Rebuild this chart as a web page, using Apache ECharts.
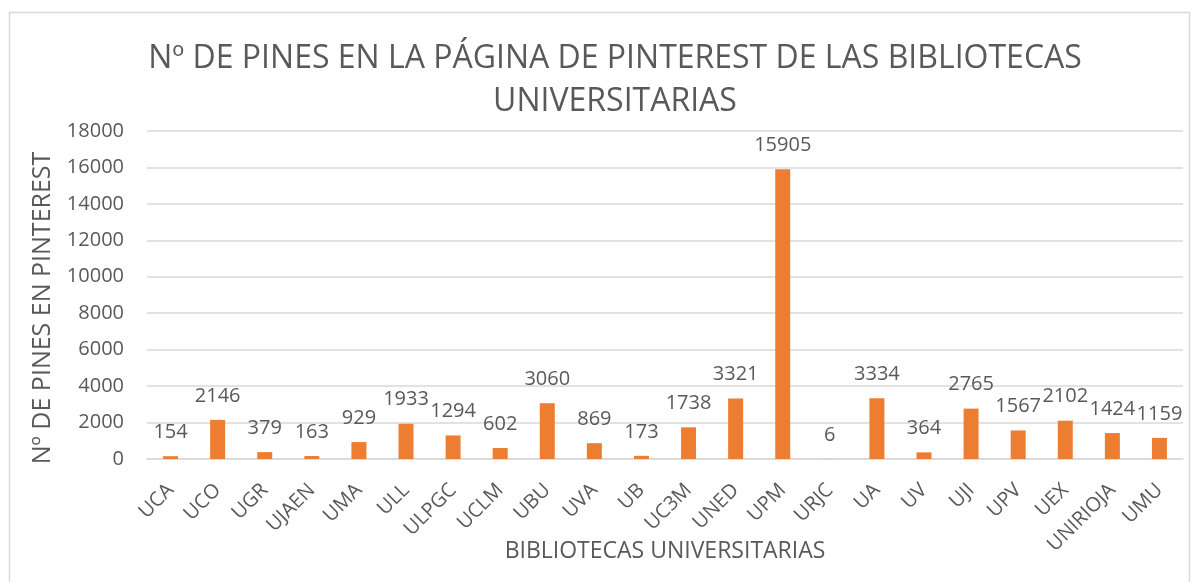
<!DOCTYPE html>
<html>
<head>
<meta charset="utf-8">
<style>
  html, body { margin: 0; padding: 0; background: #fff; }
  #chart { width: 1196px; height: 582px; }
</style>
<script src="https://cdn.jsdelivr.net/npm/echarts@6/dist/echarts.min.js"></script>
</head>
<body>
<div id="chart"></div>
<script>
var categories = ['UCA', 'UCO', 'UGR', 'UJAEN', 'UMA', 'ULL', 'ULPGC', 'UCLM', 'UBU', 'UVA', 'UB',
  'UC3M', 'UNED', 'UPM', 'URJC', 'UA', 'UV', 'UJI', 'UPV', 'UEX', 'UNIRIOJA', 'UMU']
var pines = [154, 2146, 379, 163, 929, 1933, 1294, 602, 3060, 869, 173,
  1738, 3321, 15905, 6, 3334, 364, 2765, 1567, 2102, 1424, 1159]

var textColor = '#595959'
var fontFamily = '"Open Sans", sans-serif'

var chart = echarts.init(document.getElementById('chart'))
chart.setOption({
  animation: false,
  textStyle: { fontFamily: fontFamily, color: textColor },
  graphic: [
    {
      type: 'rect',
      left: 7,
      top: 10,
      shape: { width: 1180, height: 600 },
      style: { fill: 'none', stroke: '#D9D9D9', lineWidth: 1.5 },
      silent: true
    }
  ],
  title: {
    text: 'Nº DE PINES EN LA PÁGINA DE PINTEREST DE LAS BIBLIOTECAS\nUNIVERSITARIAS',
    left: 610,
    textAlign: 'center',
    top: 32,
    textStyle: {
      fontFamily: fontFamily,
      fontSize: 32,
      fontWeight: 'normal',
      color: textColor,
      lineHeight: 43
    }
  },
  grid: {
    left: 147,
    right: 13,
    top: 131,
    bottom: 123,
    containLabel: false,
    outerBoundsMode: 'none'
  },
  xAxis: {
    type: 'category',
    data: categories,
    name: 'BIBLIOTECAS UNIVERSITARIAS',
    nameLocation: 'middle',
    nameGap: 81,
    nameMoveOverlap: false,
    nameTextStyle: { fontSize: 23, color: textColor, fontFamily: fontFamily },
    axisLine: { lineStyle: { color: '#D9D9D9', width: 1.5 } },
    axisTick: { show: false },
    axisLabel: {
      rotate: 45,
      interval: 0,
      margin: 28,
      fontSize: 20,
      color: textColor,
      fontFamily: fontFamily
    }
  },
  yAxis: {
    type: 'value',
    min: 0,
    max: 18000,
    interval: 2000,
    name: 'Nº DE PINES EN PINTEREST',
    nameLocation: 'middle',
    nameGap: 92,
    nameMoveOverlap: false,
    nameTextStyle: {
      fontSize: 25,
      color: textColor,
      fontFamily: fontFamily,
      padding: [0, 26, 0, 0]
    },
    axisLabel: {
      fontSize: 20,
      color: textColor,
      margin: 23,
      fontFamily: fontFamily,
      formatter: function (v) { return String(v) }
    },
    splitLine: { lineStyle: { color: '#D9D9D9', width: 1.5 } }
  },
  series: [
    {
      type: 'bar',
      data: pines,
      barWidth: 15,
      itemStyle: { color: '#ED7D31' },
      label: {
        show: true,
        position: 'top',
        distance: 14,
        fontSize: 20,
        color: textColor,
        fontFamily: fontFamily
      }
    }
  ]
})
</script>
</body>
</html>
